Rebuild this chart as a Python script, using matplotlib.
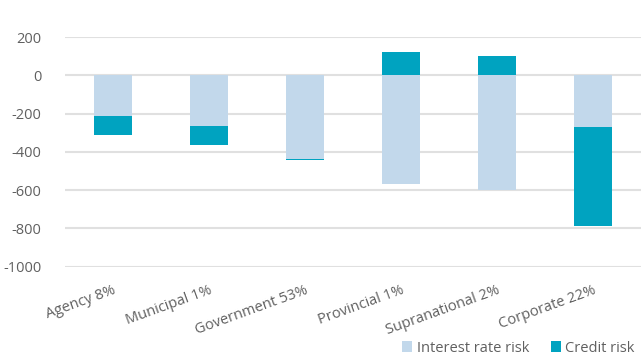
import matplotlib.pyplot as plt
import numpy as np

plt.rcParams['font.family'] = ['Open Sans', 'DejaVu Sans']
plt.rcParams['axes.unicode_minus'] = False

sectors = ['Agency 8%', 'Municipal 1%', 'Government 53%', 'Provincial 1%',
           'Supranational 2%', 'Corporate 22%']
interest_rate = [-210, -263, -435, -570, -597, -268]
credit = [-102, -103, -7, 120, 100, -520]

light_blue = '#c2d8eb'
teal = '#00a3c0'

fig = plt.figure(figsize=(6.41, 3.54), dpi=100)
ax = fig.add_axes([0.101, 0.247, 0.899, 0.648])

x = np.arange(len(sectors))
ir = np.array(interest_rate)
cr = np.array(credit)
# credit sits on the end of the interest bar when both point the same way
base = np.where(np.sign(ir) == np.sign(cr), ir, 0)

ax.bar(x, ir, width=0.4, color=light_blue, label='Interest rate risk', zorder=2)
ax.bar(x, cr, width=0.4, bottom=base, color=teal, label='Credit risk', zorder=2)

ax.set_xlim(-0.5, 5.5)
ax.set_ylim(-1000, 200)
ax.set_yticks(np.arange(-1000, 201, 200))
ax.yaxis.grid(True, color='#e0e0e0', lw=1.5, zorder=0)
ax.set_axisbelow(True)
for s in ax.spines.values():
    s.set_visible(False)
ax.tick_params(length=0, colors='#606060', labelsize=10.5)
ax.tick_params(axis='y', pad=17)
ax.set_xticks(x)
ax.set_xticklabels(sectors, rotation=20, ha='right', rotation_mode='anchor')
ax.tick_params(axis='x', pad=12)

leg = ax.legend(loc='lower right', bbox_to_anchor=(1.012, -0.445), ncol=2,
                frameon=False, fontsize=10.5, handlelength=0.7, handleheight=0.7,
                handletextpad=0.3, columnspacing=1.5)
for t in leg.get_texts():
    t.set_color('#606060')

fig.savefig('out.png', dpi=100)
